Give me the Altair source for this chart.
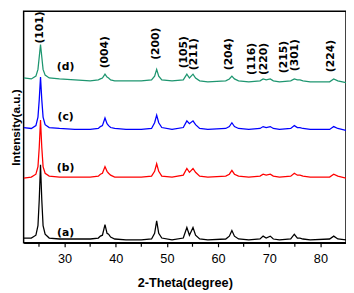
import altair as alt
import pandas as pd

# 2-Theta positions (degree) shared by all four patterns
two_theta = [22.0, 23.5, 24.4, 24.8, 25.05, 25.3, 25.55, 25.8, 26.2, 27.0, 29.0, 32.0, 35.0,
             36.6, 37.0, 37.4, 37.9, 38.3, 38.6, 39.0, 39.8, 42.0, 45.0, 47.0, 47.6, 48.0,
             48.4, 49.0, 51.0, 53.2, 53.9, 54.4, 55.1, 55.6, 56.4, 58.0, 61.5, 62.2, 62.7,
             63.2, 64.0, 66.0, 68.2, 68.8, 69.4, 70.2, 70.8, 72.0, 74.2, 74.9, 75.5, 76.0,
             76.6, 78.0, 81.8, 82.6, 83.4, 85.0]

# Intensity (a.u., stacked)
trace_a = [5, 5, 8, 18, 45, 82, 45, 18, 9, 5, 4, 4, 4,
           5, 7, 8, 19, 10, 9, 6, 4, 3, 3, 4, 10, 23,
           10, 5, 3, 5, 16, 8, 16, 8, 4, 3, 4, 7, 13,
           7, 4, 3, 4, 7, 5, 7, 4, 3, 4, 9, 5, 5,
           4, 3, 4, 7, 4, 3]
trace_b = [68, 69, 72, 80, 100, 129, 100, 80, 73, 70, 69, 69, 69,
           70, 72, 73, 80, 75, 73, 71, 69, 69, 69, 70, 75, 83,
           75, 70, 69, 71, 78, 74, 78, 74, 70, 69, 70, 72, 76,
           72, 70, 69, 70, 72, 71, 72, 70, 69, 70, 73, 71, 71,
           70, 69, 69, 72, 70, 68]
trace_c = [121, 120, 123, 132, 150, 174, 150, 132, 124, 121, 120, 119, 119,
           120, 122, 123, 131, 125, 123, 121, 120, 119, 119, 120, 126, 134,
           126, 121, 119, 121, 128, 125, 128, 124, 120, 119, 120, 122, 126,
           122, 120, 119, 120, 122, 121, 122, 120, 119, 120, 123, 121, 121,
           120, 119, 119, 122, 120, 118]
trace_d = [173, 172, 175, 182, 195, 208, 195, 182, 176, 173, 172, 171, 170,
           171, 172, 173, 177, 174, 173, 171, 170, 170, 170, 171, 175, 182,
           175, 171, 170, 171, 177, 173, 177, 173, 170, 169, 170, 172, 175,
           172, 170, 169, 170, 172, 171, 172, 170, 169, 170, 172, 171, 171,
           170, 169, 169, 172, 170, 168]

samples = ["(a)", "(b)", "(c)", "(d)"]
colors = ["#000000", "#ff0000", "#0000ff", "#1e9670"]

# Sample labels
sample_x = [30.2, 30.2, 30.2, 30.2]
sample_y = [10, 78, 132, 184]

# Miller index labels
peak_labels = ["(101)", "(004)", "(200)", "(105)", "(211)", "(204)",
               "(116)", "(220)", "(215)", "(301)", "(224)"]
peak_x = [25.3, 37.95, 47.8, 53.3, 55.4, 62.2, 66.7, 69.0, 72.8, 75.1, 82.1]
peak_y = [226, 200, 209, 200, 198, 198, 193, 193, 195, 197, 196]

# Axis ticks
major_ticks = [30, 40, 50, 60, 70, 80]
minor_ticks = [25, 35, 45, 55, 65, 75]

rows = []
for name, ys in zip(samples, [trace_a, trace_b, trace_c, trace_d]):
    for xv, yv in zip(two_theta, ys):
        rows.append({"x": xv, "y": yv, "sample": name})
df = pd.DataFrame(rows)
df_samples = pd.DataFrame({"x": sample_x, "y": sample_y, "label": samples})
df_peaks = pd.DataFrame({"x": peak_x, "y": peak_y, "label": peak_labels})
df_minor = pd.DataFrame({"x": minor_ticks, "y0": [0] * len(minor_ticks),
                         "y1": [-4.1] * len(minor_ticks)})

xscale = alt.Scale(domain=[22, 85], nice=False, zero=False)
yscale = alt.Scale(domain=[0, 243], nice=False, zero=False)

lines = alt.Chart(df).mark_line(strokeWidth=1.3, clip=True).encode(
    x=alt.X("x:Q", scale=xscale,
            axis=alt.Axis(title="2-Theta(degree)", values=major_ticks,
                          grid=False, tickSize=4, tickColor="black",
                          tickWidth=1.2, domainColor="black", domainWidth=1.5,
                          labelFont="Liberation Sans", labelFontSize=13, labelColor="black",
                          labelPadding=6, titleFont="Liberation Sans", titleFontSize=13,
                          titleFontWeight="bold", titleColor="black", titlePadding=12)),
    y=alt.Y("y:Q", scale=yscale,
            axis=alt.Axis(title="Intensity(a.u.)", labels=False, ticks=False, domain=False,
                          grid=False, titleFont="Liberation Sans", titleFontSize=12,
                          titleFontWeight="bold", titleColor="black", titlePadding=1)),
    color=alt.Color("sample:N", scale=alt.Scale(domain=samples, range=colors), legend=None),
)

minor = alt.Chart(df_minor).mark_rule(color="black", strokeWidth=1.2).encode(
    x=alt.X("x:Q", scale=xscale), y=alt.Y("y0:Q", scale=yscale), y2="y1:Q")

sample_text = alt.Chart(df_samples).mark_text(
    font="DejaVu Sans", fontSize=11, fontWeight="bold", color="black"
).encode(x=alt.X("x:Q", scale=xscale), y=alt.Y("y:Q", scale=yscale), text="label:N")

peak_text = alt.Chart(df_peaks).mark_text(
    font="DejaVu Sans", fontSize=11, fontWeight="bold", color="black", angle=270
).encode(x=alt.X("x:Q", scale=xscale), y=alt.Y("y:Q", scale=yscale), text="label:N")

chart = alt.layer(lines, minor, sample_text, peak_text).properties(
    width=330, height=237,
    autosize=alt.AutoSizeParams(type="none"),
    padding={"left": 16, "top": 0, "right": 0, "bottom": 48},
).configure_view(stroke="black", strokeWidth=1.5)

chart.save("out.html", embed_options={"renderer": "svg", "actions": False})
